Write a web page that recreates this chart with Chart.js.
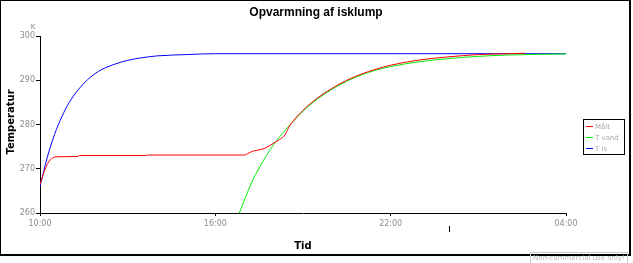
<!DOCTYPE html>
<html>
<head>
<meta charset="utf-8">
<script src="https://cdn.jsdelivr.net/npm/chart.js@4"></script>
<style>
  html, body { margin: 0; padding: 0; background: #fff; }
  #wrap { width: 633px; height: 263px; position: relative; }
</style>
</head>
<body>
<div id="wrap"><canvas id="chart"></canvas></div>
<script>
// hours after 10:00 and temperature in K
const maaltHours = [0, 0.1, 0.2, 0.3, 0.4, 0.55, 1.3, 1.35, 3.6, 3.7, 7.0, 7.1, 7.3, 7.6, 7.8, 8.0, 8.2, 8.4, 8.5, 9.0, 9.5, 10, 10.5, 11, 11.5, 12, 13, 14, 15, 16, 16.6];
const maaltTemp  = [266.5, 268.5, 270.3, 271.6, 272.3, 272.7, 272.8, 273.0, 273.0, 273.1, 273.1, 273.4, 274.0, 274.4, 275.0, 275.8, 276.6, 277.8, 279.2, 283.2, 286.0, 288.2, 290.0, 291.4, 292.5, 293.4, 294.6, 295.3, 295.8, 296.0, 296.1];

const vandHours = [6.82, 7.0, 7.25, 7.5, 7.75, 8.0, 8.25, 8.5, 9.0, 9.5, 10, 10.5, 11, 11.5, 12, 13, 14, 15, 16, 17, 18];
const vandTemp  = [260, 263, 267, 270.2, 273, 275.5, 277.6, 279.5, 283, 285.8, 288, 289.8, 291.2, 292.3, 293.1, 294.2, 294.9, 295.4, 295.7, 295.85, 295.95];

const isHours = [0, 0.25, 0.5, 0.75, 1, 1.5, 2, 2.5, 3, 3.5, 4, 5, 6, 18];
const isTemp  = [266, 272.6, 277.8, 281.8, 285, 289.3, 292, 293.5, 294.5, 295.1, 295.5, 295.8, 296, 296];

const xTickLabels = ['10:00', '16:00', '22:00', '04:00'];
const yMin = 260, yMax = 300, yStep = 10;

function toPoints(xs, ys) {
    return xs.map((x, i) => ({ x: x, y: ys[i] }));
}

const tickFont = { family: 'DejaVu Sans', size: 8 };
const tickColor = '#8c8c8c';

const decor = {
    id: 'decor',
    afterDraw(chart) {
        const c = chart.ctx;
        c.save();
        // outer frame
        c.fillStyle = '#000';
        c.fillRect(0, 0, 631, 1);
        c.fillRect(0, 0, 1, 256);
        c.fillRect(629, 0, 2, 256);
        c.fillRect(0, 254, 631, 2);

        // title
        c.textAlign = 'center';
        c.textBaseline = 'middle';
        c.font = 'bold 12px "Liberation Sans"';
        c.fillText('Opvarmning af isklump', 316, 13);

        // unit
        c.fillStyle = tickColor;
        c.font = '7px "DejaVu Sans"';
        c.fillText('K', 33, 27);

        // axis titles
        c.fillStyle = '#000';
        c.font = 'bold 10px "DejaVu Sans"';
        c.fillText('Tid', 303, 246);
        c.save();
        c.translate(11, 122);
        c.rotate(-Math.PI / 2);
        c.fillText('Temperatur', 0, 0);
        c.restore();

        // stray mark under the axis
        c.fillRect(449, 226, 1, 6);

        // legend
        c.fillStyle = '#fff';
        c.fillRect(583, 119, 41, 35);
        c.strokeStyle = '#000';
        c.lineWidth = 1;
        c.strokeRect(583.5, 119.5, 41, 35);
        c.textAlign = 'left';
        c.font = '7px "DejaVu Sans"';
        chart.data.datasets.forEach((ds, i) => {
            const y = 126 + i * 11;
            c.fillStyle = ds.borderColor;
            c.fillRect(586, y, 7, 1);
            c.fillStyle = '#a8a8a8';
            c.fillText(ds.label, 595, y + 1);
        });

        // watermark
        c.strokeStyle = '#c8c8c8';
        c.strokeRect(530.5, 252.5, 97, 11);
        c.fillStyle = '#b8b8b8';
        c.textAlign = 'center';
        c.font = '7px "DejaVu Sans"';
        c.fillText('Non-commercial use only!', 579, 258);
        c.restore();
    }
};

new Chart(document.getElementById('chart'), {
    type: 'scatter',
    data: {
        datasets: [
            { label: 'Målt', data: toPoints(maaltHours, maaltTemp), borderColor: '#ff0000' },
            { label: 'T vand', data: toPoints(vandHours, vandTemp), borderColor: '#00ee00' },
            { label: 'T is', data: toPoints(isHours, isTemp), borderColor: '#0000ff' }
        ]
    },
    options: {
        responsive: true,
        maintainAspectRatio: false,
        animation: false,
        showLine: true,
        elements: {
            point: { radius: 0 },
            line: { borderWidth: 1, cubicInterpolationMode: 'monotone' }
        },
        layout: { padding: { left: 0, top: 36, right: 67, bottom: 30 } },
        plugins: {
            legend: { display: false },
            title: { display: false },
            tooltip: { enabled: false }
        },
        scales: {
            x: {
                type: 'linear',
                min: 0,
                max: 18,
                afterFit: s => { s.height = 20; },
                border: { color: '#000', width: 1 },
                grid: { drawOnChartArea: false, color: '#000', tickLength: 3 },
                ticks: {
                    stepSize: 6,
                    padding: 3,
                    color: tickColor,
                    font: tickFont,
                    maxRotation: 0,
                    callback: v => xTickLabels[v / 6]
                }
            },
            y: {
                min: yMin,
                max: yMax,
                afterFit: s => { s.width = 40; },
                border: { color: '#000', width: 1 },
                grid: { drawOnChartArea: false, color: '#000', tickLength: 4 },
                ticks: { stepSize: yStep, padding: 1, color: tickColor, font: tickFont }
            }
        }
    },
    plugins: [decor]
});
</script>
</body>
</html>
